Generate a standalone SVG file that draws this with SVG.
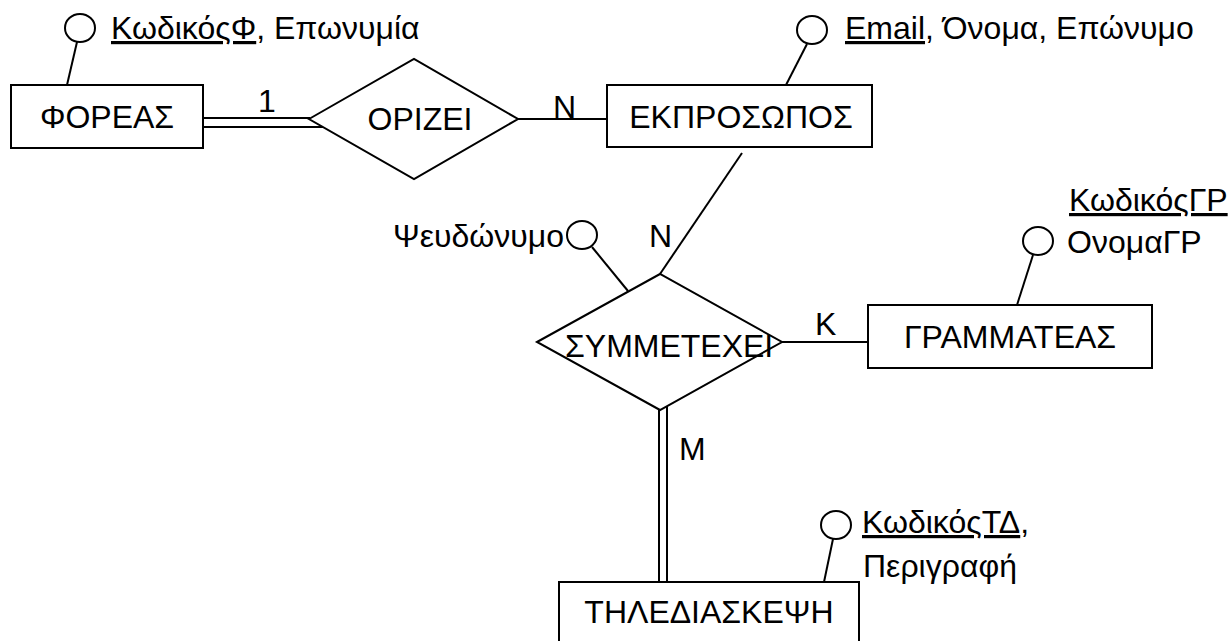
<svg xmlns="http://www.w3.org/2000/svg" width="1230" height="641" viewBox="0 0 1230 641">
  <style>
    .shape { fill: #fff; stroke: #000; stroke-width: 2; }
    .edge { fill: none; stroke: #000; stroke-width: 2; }
    .attr { fill: #fff; stroke: #000; stroke-width: 2; }
    text { font-family: "Liberation Sans", Arial, sans-serif; font-size: 32px; fill: #000; }
    .c { text-anchor: middle; }
    .e { text-anchor: end; }
    .key { text-decoration: underline; }
  </style>
  <rect width="1230" height="641" fill="#fff"/>

  <!-- connectors -->
  <g id="connectors">
    <!-- ΦΟΡΕΑΣ = ΟΡΙΖΕΙ (total participation) -->
    <line class="edge" x1="203" y1="118" x2="310" y2="118"/>
    <line class="edge" x1="203" y1="127" x2="324" y2="127"/>
    <!-- ΟΡΙΖΕΙ - ΕΚΠΡΟΣΩΠΟΣ -->
    <line class="edge" x1="518" y1="119" x2="607" y2="119"/>
    <!-- ΕΚΠΡΟΣΩΠΟΣ - ΣΥΜΜΕΤΕΧΕΙ -->
    <line class="edge" x1="742" y1="153" x2="660" y2="274"/>
    <!-- ΣΥΜΜΕΤΕΧΕΙ - ΓΡΑΜΜΑΤΕΑΣ -->
    <line class="edge" x1="782" y1="342" x2="868" y2="342"/>
    <!-- ΣΥΜΜΕΤΕΧΕΙ = ΤΗΛΕΔΙΑΣΚΕΨΗ (total participation) -->
    <line class="edge" x1="659" y1="410" x2="659" y2="582"/>
    <line class="edge" x1="667" y1="406" x2="667" y2="582"/>
    <!-- attribute stems -->
    <line class="edge" x1="77" y1="42" x2="67" y2="85"/>
    <line class="edge" x1="807" y1="44" x2="786" y2="85"/>
    <line class="edge" x1="592" y1="247" x2="628" y2="291"/>
    <line class="edge" x1="1033" y1="255" x2="1017" y2="305"/>
    <line class="edge" x1="833" y1="539" x2="824" y2="582"/>
    <!-- cardinalities -->
    <text x="258" y="112">1</text>
    <text x="553" y="118">N</text>
    <text x="649" y="247">N</text>
    <text x="815" y="335">K</text>
    <text x="679" y="460">M</text>
  </g>

  <!-- entity ΦΟΡΕΑΣ -->
  <g id="foreas">
    <rect class="shape" x="11" y="85" width="192" height="63"/>
    <text class="c" x="107" y="128">ΦΟΡΕΑΣ</text>
    <ellipse class="attr" cx="80" cy="28" rx="15" ry="14"/>
    <text x="111" y="39"><tspan class="key">ΚωδικόςΦ</tspan>, Επωνυμία</text>
  </g>

  <!-- relationship ΟΡΙΖΕΙ -->
  <g id="orizei">
    <polygon class="shape" points="309,119 414,59 518,119 414,179"/>
    <text class="c" x="420" y="130">ΟΡΙΖΕΙ</text>
  </g>

  <!-- entity ΕΚΠΡΟΣΩΠΟΣ -->
  <g id="ekprosopos">
    <rect class="shape" x="607" y="85" width="265" height="62"/>
    <text class="c" x="741" y="128">ΕΚΠΡΟΣΩΠΟΣ</text>
    <ellipse class="attr" cx="812" cy="30" rx="15" ry="14"/>
    <text x="845" y="39"><tspan class="key">Email</tspan>, Όνομα, Επώνυμο</text>
  </g>

  <!-- relationship ΣΥΜΜΕΤΕΧΕΙ -->
  <g id="symmetexei">
    <polygon class="shape" points="537,342 660,274 782,342 660,410"/>
    <text x="565" y="357">ΣΥΜΜΕΤΕΧΕΙ</text>
    <ellipse class="attr" cx="582" cy="235" rx="15" ry="14"/>
    <text class="e" x="564" y="247">Ψευδώνυμο</text>
  </g>

  <!-- entity ΓΡΑΜΜΑΤΕΑΣ -->
  <g id="grammateas">
    <rect class="shape" x="868" y="305" width="284" height="63"/>
    <text class="c" x="1010" y="348">ΓΡΑΜΜΑΤΕΑΣ</text>
    <ellipse class="attr" cx="1038" cy="241" rx="15" ry="14"/>
    <text x="1069" y="211"><tspan class="key">ΚωδικόςΓΡ</tspan></text>
    <text x="1067" y="253">ΟνομαΓΡ</text>
  </g>

  <!-- entity ΤΗΛΕΔΙΑΣΚΕΨΗ -->
  <g id="tilediaskepsi">
    <rect class="shape" x="559" y="582" width="300" height="80"/>
    <text class="c" x="709" y="623">ΤΗΛΕΔΙΑΣΚΕΨΗ</text>
    <ellipse class="attr" cx="836" cy="525" rx="15" ry="14"/>
    <text x="862" y="533"><tspan class="key">ΚωδικόςΤΔ</tspan>,</text>
    <text x="863" y="577">Περιγραφή</text>
  </g>
</svg>
